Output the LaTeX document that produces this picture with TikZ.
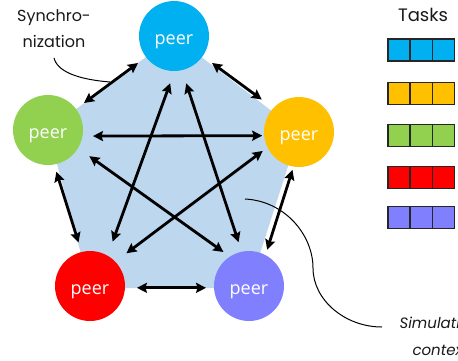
\documentclass[tikz,border=0pt]{standalone}
\usepackage{fontspec}
\setmainfont{Poppins}
\newfontfamily\peerfont{Open Sans}
\usetikzlibrary{arrows.meta}
\definecolor{cyanp}{RGB}{0,176,240}
\definecolor{amberp}{RGB}{255,192,0}
\definecolor{greenp}{RGB}{146,208,80}
\definecolor{redp}{RGB}{255,0,0}
\definecolor{violetp}{RGB}{128,128,255}
\definecolor{ctxblue}{RGB}{189,215,238}
\tikzset{
  x=1pt,y=-1pt,
  peernode/.style={circle,fill=#1,minimum size=70pt,inner sep=0pt,outer sep=0pt,text=white,text height=16pt,text depth=0pt,font=\peerfont\fontsize{18}{18}\selectfont},
  syncarrow/.style={line width=2.8pt,{Stealth[length=10pt,width=10pt,inset=1.5pt]}-{Stealth[length=10pt,width=10pt,inset=1.5pt]}},
  leader/.style={line width=1pt,black},
  taskcell/.style={draw=black!85,line width=1.1pt,fill=#1,minimum size=22pt,inner sep=0pt,outer sep=0pt},
  label/.style={font=\fontsize{16}{16}\selectfont,text=black!90,anchor=base},
  simlabel/.style={font=\itshape\fontsize{15}{15}\selectfont,text=black!90,anchor=base west}
}
\begin{document}
\begin{tikzpicture}
\useasboundingbox (0,0) rectangle (458,360);
\fill[ctxblue] (174,36) -- (299,132) -- (249,288) -- (90,288) -- (48,130) -- cycle;
\node[peernode=cyanp] (top) at (174,36) {peer};
\node[peernode=greenp] (left) at (48,130) {peer};
\node[peernode=amberp] (right) at (299,132) {peer};
\node[peernode=redp] (low) at (90,286) {peer};
\node[peernode=violetp] (lowr) at (249,286) {peer};
% sides
\draw[syncarrow,shorten <=10pt,shorten >=10pt] (top.-143) -- (left.37);
\draw[syncarrow,shorten <=11.6pt,shorten >=14.5pt] (top.-35) -- (right.137);
\draw[syncarrow,shorten <=7.6pt,shorten >=10pt] (left.-80) -- (low.104);
\draw[syncarrow,shorten <=3.5pt,shorten >=5.7pt] (right.-99) -- (lowr.62);
\draw[syncarrow,shorten <=12pt,shorten >=8pt] (low.-3) -- (lowr.183);
% star
\draw[syncarrow,shorten <=15pt,shorten >=13pt] (low.60) -- (top.-89);
\draw[syncarrow,shorten <=14pt,shorten >=10pt] (top.-77) -- (lowr.102);
\draw[syncarrow,shorten <=10.5pt,shorten >=2pt] (left.-10) -- (right.186);
\draw[syncarrow,shorten <=14pt,shorten >=8pt] (left.-31) -- (lowr.123);
\draw[syncarrow,shorten <=14pt,shorten >=6pt] (low.44) -- (right.206);
% leaders
\coordinate (syncstart) at (54,58);
\coordinate (syncend) at (110,82);
\draw[leader] (syncstart) .. controls (58,74) and (85,80) .. (syncend);
\coordinate (ctxstart) at (245,199);
\coordinate (ctxmid) at (313,268);
\coordinate (ctxend) at (382,327);
\draw[leader] (ctxstart) .. controls (285,201) and (313,235) .. (ctxmid)
  .. controls (313,300) and (345,327) .. (ctxend);
% labels
\node[label] (sync1) at (54,21.6) {Synchro-};
\node[label] (sync2) at (54,47.6) {nization};
\node[label,font=\fontsize{18}{18}\selectfont] (tasks) at (423,21) {Tasks};
\node[simlabel] (sim) at (396,328) {Simulation};
\node[simlabel] (ctx) at (409,355) {context};
% tasks
\foreach \y/\c [count=\i] in {50/cyanp,93.5/amberp,135.5/greenp,177.5/redp,217.5/violetp}{
  \foreach \k in {0,1,2}{
    \node[taskcell=\c] (t\i\k) at (399+\k*22.3,\y) {};
  }
}
\end{tikzpicture}
\end{document}
